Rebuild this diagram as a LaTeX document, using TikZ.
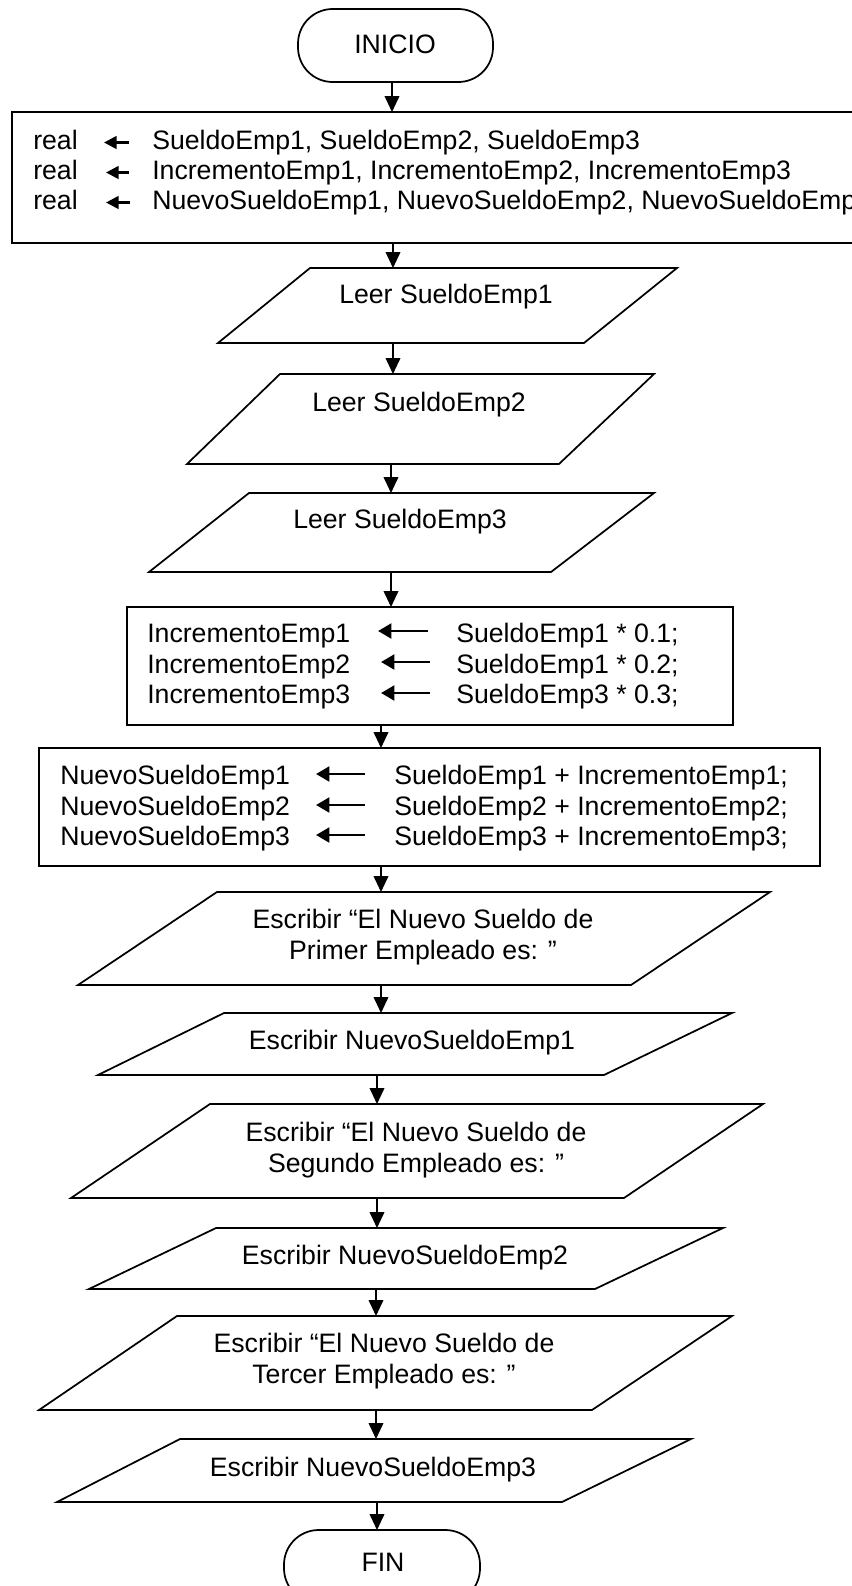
\documentclass[tikz,border=0pt]{standalone}
\usepackage{fontspec}
\setmainfont{Liberation Sans}
\usetikzlibrary{arrows.meta}
\begin{document}
\begin{tikzpicture}[x=0.75pt, y=-0.75pt,
  outline/.style={draw=black, line width=1.3pt, line join=miter, fill=white},
  flow/.style={draw=black, line width=1.3pt, -{Triangle[width=11pt,length=12pt]}},
  assign/.style={draw=black, line width=2.2pt, -{Triangle[width=11pt,length=10pt]}},
  smallassign/.style={draw=black, line width=2pt, -{Triangle[width=9.5pt,length=9.5pt]}},
  txt/.style={inner sep=0pt, font=\fontsize{20}{23}\selectfont},
  ctxt/.style={txt, anchor=base},
  ltxt/.style={txt, anchor=base west}
]
\useasboundingbox (0,0) rectangle (852,1586);
\clip (0,0) rectangle (852,1586);
\fill[white] (0,0) rectangle (852,1586);

% ---------- start terminal
\draw[outline, rounded corners=26pt] (298,9) rectangle (493,82);
\node[ctxt] (inicio) at (395,53) {INICIO};
\coordinate (inicio-s) at (392,82);

% ---------- declarations (box runs past the right edge)
\draw[outline] (12,112) rectangle (880,243);
\coordinate (decl-n) at (392,112);
\coordinate (decl-s) at (393,243);
\node[ltxt] (dr1) at (33,149) {real};
\node[ltxt] (dr2) at (33,179) {real};
\node[ltxt] (dr3) at (33,209) {real};
\coordinate (da1) at (129,142.5); \coordinate (db1) at (104,142.5);
\coordinate (da2) at (129,172.5); \coordinate (db2) at (106,172.5);
\coordinate (da3) at (130,202.5); \coordinate (db3) at (106,202.5);
\draw[smallassign] (da1) -- (db1);
\draw[smallassign] (da2) -- (db2);
\draw[smallassign] (da3) -- (db3);
\node[ltxt] (dv1) at (152,149) {SueldoEmp1, SueldoEmp2, SueldoEmp3};
\node[ltxt] (dv2) at (152,179) {IncrementoEmp1, IncrementoEmp2, IncrementoEmp3};
\node[ltxt] (dv3) at (152,209) {NuevoSueldoEmp1, NuevoSueldoEmp2, NuevoSueldoEmp3};

% ---------- input parallelograms
\draw[outline] (310,268) -- (677,268) -- (584,343) -- (218,343) -- cycle;
\node[ctxt] (leer1) at (446,303) {Leer SueldoEmp1};
\coordinate (leer1-n) at (393,268); \coordinate (leer1-s) at (393,343);

\draw[outline] (280,374) -- (654,374) -- (559,464) -- (187,464) -- cycle;
\node[ctxt] (leer2) at (419,411) {Leer SueldoEmp2};
\coordinate (leer2-n) at (393,374); \coordinate (leer2-s) at (391,464);

\draw[outline] (249,493) -- (654,493) -- (551,572) -- (149,572) -- cycle;
\node[ctxt] (leer3) at (400,528) {Leer SueldoEmp3};
\coordinate (leer3-n) at (391,493); \coordinate (leer3-s) at (391,572);

% ---------- increments
\draw[outline] (127,607) rectangle (733,725);
\coordinate (inc-n) at (391,607); \coordinate (inc-s) at (381,725);
\node[ltxt] (il1) at (147,642) {IncrementoEmp1};
\node[ltxt] (il2) at (147,673) {IncrementoEmp2};
\node[ltxt] (il3) at (147,703) {IncrementoEmp3};
\coordinate (ia1) at (428,631); \coordinate (ib1) at (378,631);
\coordinate (ia2) at (430,662); \coordinate (ib2) at (381,662);
\coordinate (ia3) at (430,693); \coordinate (ib3) at (381,693);
\draw[assign] (ia1) -- (ib1);
\draw[assign] (ia2) -- (ib2);
\draw[assign] (ia3) -- (ib3);
\node[ltxt] (ir1) at (456,642) {SueldoEmp1 * 0.1;};
\node[ltxt] (ir2) at (456,673) {SueldoEmp1 * 0.2;};
\node[ltxt] (ir3) at (456,703) {SueldoEmp3 * 0.3;};

% ---------- new salaries
\draw[outline] (39,748) rectangle (820,866);
\coordinate (nue-n) at (381,748); \coordinate (nue-s) at (381,866);
\node[ltxt] (nl1) at (60,784) {NuevoSueldoEmp1};
\node[ltxt] (nl2) at (60,815) {NuevoSueldoEmp2};
\node[ltxt] (nl3) at (60,845) {NuevoSueldoEmp3};
\coordinate (na1) at (365,774); \coordinate (nb1) at (316,774);
\coordinate (na2) at (365,805); \coordinate (nb2) at (316,805);
\coordinate (na3) at (365,835); \coordinate (nb3) at (316,835);
\draw[assign] (na1) -- (nb1);
\draw[assign] (na2) -- (nb2);
\draw[assign] (na3) -- (nb3);
\node[ltxt] (nr1) at (394,784) {SueldoEmp1 + IncrementoEmp1;};
\node[ltxt] (nr2) at (394,815) {SueldoEmp2 + IncrementoEmp2;};
\node[ltxt] (nr3) at (394,845) {SueldoEmp3 + IncrementoEmp3;};

% ---------- output parallelograms
\draw[outline] (217,892) -- (770,892) -- (631,985) -- (78,985) -- cycle;
\node[ctxt] (pri1) at (423,928) {Escribir “El Nuevo Sueldo de};
\node[ctxt] (pri2) at (423,959) {Primer Empleado es: ”};
\coordinate (pri-n) at (381,892); \coordinate (pri-s) at (381,985);

\draw[outline] (224,1013) -- (732,1013) -- (604,1075) -- (98,1075) -- cycle;
\node[ctxt] (esc1) at (412,1049) {Escribir NuevoSueldoEmp1};
\coordinate (esc1-n) at (381,1013); \coordinate (esc1-s) at (377,1075);

\draw[outline] (210,1104) -- (763,1104) -- (624,1198) -- (71,1198) -- cycle;
\node[ctxt] (seg1) at (416,1141) {Escribir “El Nuevo Sueldo de};
\node[ctxt] (seg2) at (416,1172) {Segundo Empleado es: ”};
\coordinate (seg-n) at (377,1104); \coordinate (seg-s) at (377,1198);

\draw[outline] (216,1228) -- (723,1228) -- (595,1289) -- (89,1289) -- cycle;
\node[ctxt] (esc2) at (405,1264) {Escribir NuevoSueldoEmp2};
\coordinate (esc2-n) at (377,1228); \coordinate (esc2-s) at (376,1289);

\draw[outline] (177,1316) -- (732,1316) -- (592,1410) -- (39,1410) -- cycle;
\node[ctxt] (ter1) at (384,1352) {Escribir “El Nuevo Sueldo de};
\node[ctxt] (ter2) at (384,1383) {Tercer Empleado es: ”};
\coordinate (ter-n) at (376,1316); \coordinate (ter-s) at (376,1410);

\draw[outline] (180,1439) -- (691,1439) -- (562,1502) -- (57,1502) -- cycle;
\node[ctxt] (esc3) at (373,1476) {Escribir NuevoSueldoEmp3};
\coordinate (esc3-n) at (376,1439); \coordinate (esc3-s) at (377,1502);

% ---------- end terminal (runs past the bottom edge)
\draw[outline, rounded corners=26pt] (284,1530) rectangle (480,1603);
\node[ctxt] (fin) at (383,1571) {FIN};
\coordinate (fin-n) at (377,1530);

% ---------- flow connectors
\draw[flow] (inicio-s) -- (decl-n);
\draw[flow] (decl-s) -- (leer1-n);
\draw[flow] (leer1-s) -- (leer2-n);
\draw[flow] (leer2-s) -- (leer3-n);
\draw[flow] (leer3-s) -- (inc-n);
\draw[flow] (inc-s) -- (nue-n);
\draw[flow] (nue-s) -- (pri-n);
\draw[flow] (pri-s) -- (esc1-n);
\draw[flow] (esc1-s) -- (seg-n);
\draw[flow] (seg-s) -- (esc2-n);
\draw[flow] (esc2-s) -- (ter-n);
\draw[flow] (ter-s) -- (esc3-n);
\draw[flow] (esc3-s) -- (fin-n);
\end{tikzpicture}
\end{document}
